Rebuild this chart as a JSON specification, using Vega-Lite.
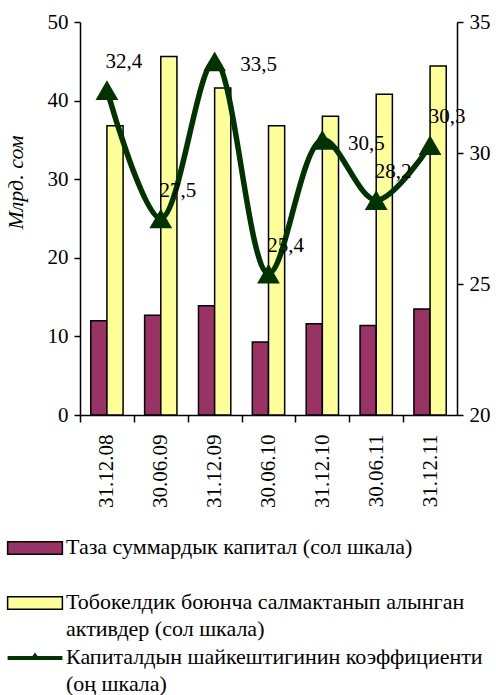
{
  "$schema": "https://vega.github.io/schema/vega-lite/v6.json",
  "width": 377,
  "height": 393,
  "autosize": {"type": "none"},
  "padding": {"left": 80, "top": 22, "right": 39, "bottom": 280},
  "background": "white",
  "config": {
    "view": {"stroke": null},
    "font": "Liberation Serif",
    "axis": {"labelFont": "Liberation Serif", "labelFontSize": 21, "labelColor": "black", "domainColor": "black", "tickColor": "black", "domainWidth": 1.5, "tickWidth": 1.5, "grid": false}
  },
  "datasets": {
    "bars": [
      {"date": "31.12.08", "series": "Таза суммардык капитал (сол шкала)", "value": 12.0},
      {"date": "30.06.09", "series": "Таза суммардык капитал (сол шкала)", "value": 12.7},
      {"date": "31.12.09", "series": "Таза суммардык капитал (сол шкала)", "value": 13.9},
      {"date": "30.06.10", "series": "Таза суммардык капитал (сол шкала)", "value": 9.3},
      {"date": "31.12.10", "series": "Таза суммардык капитал (сол шкала)", "value": 11.6},
      {"date": "30.06.11", "series": "Таза суммардык капитал (сол шкала)", "value": 11.4},
      {"date": "31.12.11", "series": "Таза суммардык капитал (сол шкала)", "value": 13.5},
      {"date": "31.12.08", "series": "Тобокелдик боюнча салмактанып алынган активдер (сол шкала)", "value": 36.8},
      {"date": "30.06.09", "series": "Тобокелдик боюнча салмактанып алынган активдер (сол шкала)", "value": 45.6},
      {"date": "31.12.09", "series": "Тобокелдик боюнча салмактанып алынган активдер (сол шкала)", "value": 41.6},
      {"date": "30.06.10", "series": "Тобокелдик боюнча салмактанып алынган активдер (сол шкала)", "value": 36.8},
      {"date": "31.12.10", "series": "Тобокелдик боюнча салмактанып алынган активдер (сол шкала)", "value": 38.0},
      {"date": "30.06.11", "series": "Тобокелдик боюнча салмактанып алынган активдер (сол шкала)", "value": 40.8},
      {"date": "31.12.11", "series": "Тобокелдик боюнча салмактанып алынган активдер (сол шкала)", "value": 44.4}
    ],
    "ratio": [
      {"date": "31.12.08", "series": "Капиталдын шайкештигинин коэффициенти (оң шкала)", "ratio": 32.4, "label": "32,4"},
      {"date": "30.06.09", "series": "Капиталдын шайкештигинин коэффициенти (оң шкала)", "ratio": 27.5, "label": "27,5"},
      {"date": "31.12.09", "series": "Капиталдын шайкештигинин коэффициенти (оң шкала)", "ratio": 33.5, "label": "33,5"},
      {"date": "30.06.10", "series": "Капиталдын шайкештигинин коэффициенти (оң шкала)", "ratio": 25.4, "label": "25,4"},
      {"date": "31.12.10", "series": "Капиталдын шайкештигинин коэффициенти (оң шкала)", "ratio": 30.5, "label": "30,5"},
      {"date": "30.06.11", "series": "Капиталдын шайкештигинин коэффициенти (оң шкала)", "ratio": 28.2, "label": "28,2"},
      {"date": "31.12.11", "series": "Капиталдын шайкештигинин коэффициенти (оң шкала)", "ratio": 30.3, "label": "30,3"}
    ]
  },
  "encoding": {
    "x": {
      "field": "date", "type": "nominal", "sort": null,
      "scale": {"paddingInner": 0.4, "paddingOuter": 0.2},
      "axis": {"title": null, "labelAngle": -90, "labelPadding": 12, "tickSize": 7, "tickOffset": -27, "labelOffset": 27, "labelBaseline": "middle", "labelFont": "Liberation Serif", "labelFontSize": 21}
    }
  },
  "layer": [
    {
      "data": {"name": "bars"},
      "mark": {"type": "bar", "stroke": "black", "strokeWidth": 1.5},
      "encoding": {
        "xOffset": {"field": "series", "type": "nominal", "sort": null},
        "y": {
          "field": "value", "type": "quantitative",
          "scale": {"domain": [0, 50], "nice": false},
          "axis": {"values": [0, 10, 20, 30, 40, 50], "title": "Млрд. сом", "titleFont": "Liberation Serif", "titleFontSize": 22, "titleFontStyle": "italic", "titleFontWeight": "normal", "titleColor": "black", "titleX": -53, "titleY": 160, "titleBaseline": "bottom", "tickSize": 6, "labelPadding": 6, "labelFont": "Liberation Serif", "labelFontSize": 21}
        },
        "fill": {
          "field": "series", "type": "nominal",
          "scale": {
            "domain": ["Таза суммардык капитал (сол шкала)", "Тобокелдик боюнча салмактанып алынган активдер (сол шкала)", "Капиталдын шайкештигинин коэффициенти (оң шкала)"],
            "range": ["#993366", "#FFFF99", "#003300"]
          },
          "legend": {
            "orient": "none", "legendX": -56, "legendY": 515,
            "title": null, "direction": "vertical",
            "labelFont": "Liberation Serif", "labelFontSize": 22, "labelColor": "black",
            "labelLimit": 500,
            "labelExpr": "datum.label == 'Тобокелдик боюнча салмактанып алынган активдер (сол шкала)' ? ['Тобокелдик боюнча салмактанып алынган', 'активдер (сол шкала)'] : datum.label == 'Капиталдын шайкештигинин коэффициенти (оң шкала)' ? ['Капиталдын шайкештигинин коэффициенти', '(оң шкала)'] : [datum.label, ' ']",
            "symbolType": "M-1,-0.23H1V0.23H-1Z",
            "symbolSize": 3000,
            "symbolStrokeColor": "black",
            "symbolStrokeWidth": 1.5,
            "symbolOpacity": 1,
            "rowPadding": 6,
            "labelOffset": 20,
            "encode": {
              "symbols": {
                "update": {
                  "shape": {"signal": "datum.value == 'Капиталдын шайкештигинин коэффициенти (оң шкала)' ? 'M-1,-0.07H1V0.07H-1Z M-0.2,0.07L0,-0.2L0.2,0.07Z' : 'M-1,-0.23H1V0.23H-1Z'"},
                  "strokeWidth": {"signal": "datum.value == 'Капиталдын шайкештигинин коэффициенти (оң шкала)' ? 0 : 1.5"}
                }
              },
              "labels": {"update": {"baseline": {"value": "top"}, "dy": {"value": -11}, "lineHeight": {"value": 27}}}
            }
          }
        }
      }
    },
    {
      "data": {"name": "ratio"},
      "encoding": {
        "y": {
          "field": "ratio", "type": "quantitative",
          "scale": {"domain": [20, 35], "nice": false},
          "axis": {"orient": "right", "values": [20, 25, 30, 35], "title": null, "tickSize": 6, "labelPadding": 6, "labelFont": "Liberation Serif", "labelFontSize": 21}
        }
      },
      "layer": [
        {
          "mark": {"type": "line", "interpolate": "catmull-rom", "strokeWidth": 5.5, "color": "#003300"}
        },
        {
          "mark": {"type": "point", "shape": "triangle-up", "size": 520, "filled": true, "opacity": 1, "color": "#003300"}
        },
        {
          "transform": [{"filter": "datum.label != '33,5' && datum.label != '30,5'"}],
          "mark": {"type": "text", "font": "Liberation Serif", "fontSize": 21, "color": "black", "dx": 17, "dy": -28},
          "encoding": {"text": {"field": "label"}}
        },
        {
          "transform": [{"filter": "datum.label == '33,5' || datum.label == '30,5'"}],
          "mark": {"type": "text", "font": "Liberation Serif", "fontSize": 21, "color": "black", "dx": 44, "dy": 4},
          "encoding": {"text": {"field": "label"}}
        }
      ]
    }
  ],
  "resolve": {"scale": {"y": "independent"}}
}
